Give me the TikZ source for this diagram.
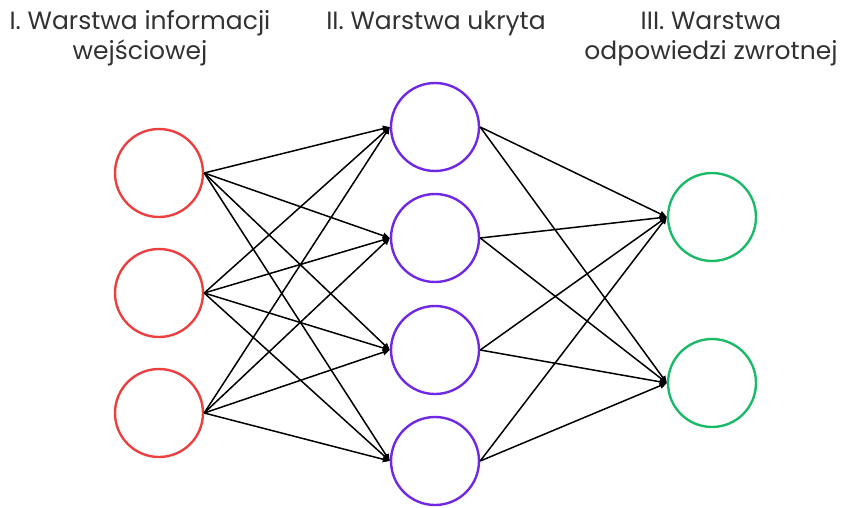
\documentclass[tikz,border=0pt]{standalone}
\usepackage{fontspec}
\setmainfont{Poppins}
\usetikzlibrary{arrows.meta}
\definecolor{inred}{RGB}{236,64,64}
\definecolor{hidpur}{RGB}{112,40,228}
\definecolor{outgrn}{RGB}{28,186,104}
\definecolor{txtgray}{RGB}{50,50,50}
\begin{document}
\begin{tikzpicture}[x=1pt,y=-1pt,
  neuron/.style={circle,draw,line width=2.4pt,minimum size=88pt,inner sep=0pt},
  inn/.style={neuron,draw=inred},
  hid/.style={neuron,draw=hidpur},
  outn/.style={neuron,draw=outgrn},
  conn/.style={line width=1.5pt,-{Triangle[length=7pt,width=6pt]}},
  title/.style={align=center,font=\fontsize{25}{30}\selectfont,text=txtgray,anchor=base,inner sep=0pt}]
\useasboundingbox (0,0) rectangle (846,508);
\node[inn] (i1) at (159,173) {};
\node[inn] (i2) at (159,293) {};
\node[inn] (i3) at (159,413) {};
\node[hid] (h1) at (435,127) {};
\node[hid] (h2) at (435,238) {};
\node[hid] (h3) at (435,350) {};
\node[hid] (h4) at (435,461) {};
\node[outn] (o1) at (712,217) {};
\node[outn] (o2) at (712,383) {};
\foreach \a in {i1,i2,i3}{\foreach \b in {h1,h2,h3,h4}{\draw[conn] (\a.east) -- (\b.west);}}
\foreach \a in {h1,h2,h3,h4}{\foreach \b in {o1,o2}{\draw[conn] (\a.east) -- (\b.west);}}
\node[title] (t1) at (140,60) {I. Warstwa informacji\\wejściowej};
\node[title] (t2) at (436,30) {II. Warstwa ukryta};
\node[title] (t3) at (711,60) {III. Warstwa\\odpowiedzi zwrotnej};
\end{tikzpicture}
\end{document}
